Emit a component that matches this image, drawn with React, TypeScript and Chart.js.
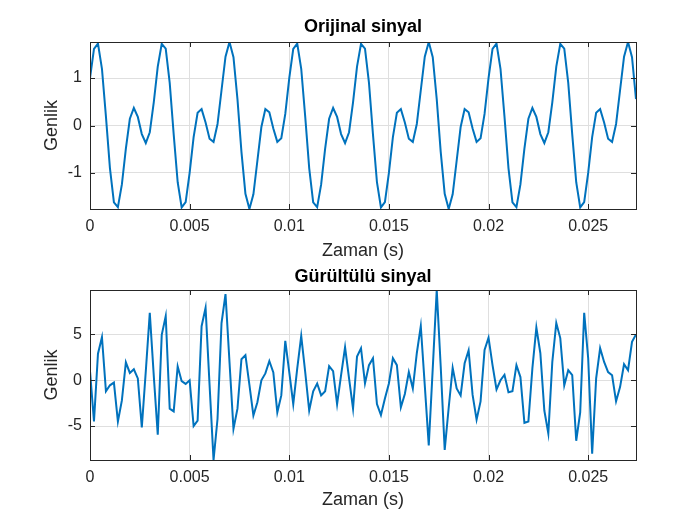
import React, { useEffect, useRef } from 'react';
import { Chart, registerables } from 'chart.js';

Chart.register(...registerables);

// ---- data ----
const sampleRate = 5000; // samples per second (time axis)

const originalSignal = [
  1.000, 1.614, 1.727, 1.196, 0.188, -0.897, -1.620, -1.721, -1.241, -0.487,
  0.142, 0.369, 0.181, -0.181, -0.369, -0.142, 0.487, 1.241, 1.721, 1.620,
  0.897, -0.188, -1.196, -1.727, -1.614, -1.000, -0.245, 0.269, 0.345, 0.063,
  -0.279, -0.345, 0.032, 0.743, 1.450, 1.760, 1.441, 0.556, -0.556, -1.441,
  -1.760, -1.450, -0.743, -0.032, 0.345, 0.279, -0.063, -0.345, -0.269, 0.245,
  1.000, 1.614, 1.727, 1.196, 0.188, -0.897, -1.620, -1.721, -1.241, -0.487,
  0.142, 0.369, 0.181, -0.181, -0.369, -0.142, 0.487, 1.241, 1.721, 1.620,
  0.897, -0.188, -1.196, -1.727, -1.614, -1.000, -0.245, 0.269, 0.345, 0.063,
  -0.279, -0.345, 0.032, 0.743, 1.450, 1.760, 1.441, 0.556, -0.556, -1.441,
  -1.760, -1.450, -0.743, -0.032, 0.345, 0.279, -0.063, -0.345, -0.269, 0.245,
  1.000, 1.614, 1.727, 1.196, 0.188, -0.897, -1.620, -1.721, -1.241, -0.487,
  0.142, 0.369, 0.181, -0.181, -0.369, -0.142, 0.487, 1.241, 1.721, 1.620,
  0.897, -0.188, -1.196, -1.727, -1.614, -1.000, -0.245, 0.269, 0.345, 0.063,
  -0.279, -0.345, 0.032, 0.743, 1.450, 1.760, 1.441, 0.556,
];

const noisySignal = [
  1.0, -4.5, 2.9, 4.7, -1.2, -0.55, -0.25, -4.5, -2.2, 1.95,
  0.8, 1.2, 0.2, -5.15, 1.0, 7.35, 0.5, -5.95, 4.95, 7.0,
  -3.1, -3.4, 1.5, -0.1, -0.4, 0.0, -5.0, -4.4, 5.9, 7.9,
  -0.5, -8.7, -4.2, 6.25, 9.4, 2.0, -5.3, -3.1, 2.3, 2.75,
  -0.5, -3.85, -2.4, 0.0, 0.75, 2.1, 0.85, -3.5, -1.65, 4.3,
  0.9, -2.6, 1.3, 4.85, 0.9, -3.3, -1.2, -0.35, -1.65, -1.2,
  1.55, 1.0, -2.6, 0.55, 3.6, 0.2, -3.1, 2.6, 3.5, -0.35,
  1.65, 2.4, -2.6, -3.8, -2.0, -0.35, 2.4, 1.65, -2.95, -1.5,
  0.9, -0.9, 2.95, 5.9, -0.55, -7.1, 1.3, 9.85, 1.5, -7.6,
  -3.0, 1.35, -0.9, -1.65, 1.85, 3.25, -1.6, -4.3, -2.3, 3.3,
  4.65, 1.65, -1.0, 0.0, 0.6, -1.3, -1.2, 1.65, 0.35, -4.65,
  -4.5, 1.3, 5.75, 2.95, -3.3, -5.8, 2.0, 6.25, 4.6, -0.55,
  1.1, 0.55, -6.6, -3.5, 7.35, 2.4, -8.0, 0.2, 3.5, 2.0,
  0.9, 0.55, -2.3, -0.75, 1.75, 1.1, 4.2, 5.0,
];

const xTickValues = [0, 0.005, 0.01, 0.015, 0.02, 0.025];
const xTickLabels = ['0', '0.005', '0.01', '0.015', '0.02', '0.025'];
const topYTickValues = [-1, 0, 1];
const topYTickLabels = ['-1', '0', '1'];
const bottomYTickValues = [-5, 0, 5];
const bottomYTickLabels = ['-5', '0', '5'];

const xMax = 0.0274;
const topYMin = -1.76;
const topYMax = 1.76;
const bottomYMin = -8.7;
const bottomYMax = 9.85;

const topTitle = 'Orijinal sinyal';
const bottomTitle = 'Gürültülü sinyal';
const xAxisTitle = 'Zaman (s)';
const yAxisTitle = 'Genlik';

// ---- styling ----
const FONT = "'Liberation Sans', Arial, Helvetica, sans-serif";
const LINE_COLOR = '#0072BD';
const AXIS_COLOR = '#262626';
const GRID_COLOR = '#dfdfdf';

const boxPlugin = {
  id: 'matlabBox',
  afterDatasetsDraw(chart: any) {
    const { ctx, chartArea: a, scales } = chart;
    ctx.save();
    ctx.strokeStyle = AXIS_COLOR;
    ctx.lineWidth = 1;
    ctx.beginPath();
    const tl = 5;
    scales.x.ticks.forEach((t: any) => {
      const px = Math.round(scales.x.getPixelForValue(t.value)) + 0.5;
      ctx.moveTo(px, a.bottom);
      ctx.lineTo(px, a.bottom - tl);
      ctx.moveTo(px, a.top);
      ctx.lineTo(px, a.top + tl);
    });
    scales.y.ticks.forEach((t: any) => {
      const py = Math.round(scales.y.getPixelForValue(t.value)) + 0.5;
      ctx.moveTo(a.left, py);
      ctx.lineTo(a.left + tl, py);
      ctx.moveTo(a.right, py);
      ctx.lineTo(a.right - tl, py);
    });
    ctx.stroke();
    ctx.strokeRect(
      Math.round(a.left) + 0.5,
      Math.round(a.top) + 0.5,
      Math.round(a.right) - Math.round(a.left),
      Math.round(a.bottom) - Math.round(a.top)
    );
    ctx.restore();
  },
};

function labelFor(values: number[], labels: string[], v: number) {
  const i = values.findIndex((x) => Math.abs(x - v) < 1e-9);
  return i >= 0 ? labels[i] : '';
}

function makeConfig(opts: {
  values: number[];
  title: string;
  titlePadTop: number;
  titlePadBottom: number;
  xScaleHeight: number;
  xTitlePadBottom: number;
  yMin: number;
  yMax: number;
  yTickValues: number[];
  yTickLabels: string[];
}): any {
  const points = opts.values.map((v, i) => ({ x: i / sampleRate, y: v }));
  return {
    type: 'line',
    data: {
      datasets: [
        {
          data: points,
          borderColor: LINE_COLOR,
          borderWidth: 2,
          pointRadius: 0,
          fill: false,
          tension: 0,
        },
      ],
    },
    options: {
      animation: false,
      responsive: false,
      devicePixelRatio: 1,
      events: [],
      layout: { padding: { left: 0, right: 64, top: 0, bottom: 0 } },
      plugins: {
        legend: { display: false },
        tooltip: { enabled: false },
        title: {
          display: true,
          text: opts.title,
          fullSize: false,
          color: '#000000',
          font: { family: FONT, size: 18, weight: 'bold' },
          padding: { top: opts.titlePadTop, bottom: opts.titlePadBottom },
        },
      },
      scales: {
        x: {
          type: 'linear',
          min: 0,
          max: xMax,
          afterBuildTicks: (s: any) => {
            s.ticks = xTickValues.map((v) => ({ value: v }));
          },
          afterFit: (s: any) => {
            s.height = opts.xScaleHeight;
          },
          ticks: {
            autoSkip: false,
            maxRotation: 0,
            color: AXIS_COLOR,
            padding: 8,
            font: { family: FONT, size: 16 },
            callback: (v: number) => labelFor(xTickValues, xTickLabels, v),
          },
          grid: { color: GRID_COLOR, drawTicks: false, lineWidth: 1 },
          border: { display: false },
          title: {
            display: true,
            text: xAxisTitle,
            color: AXIS_COLOR,
            font: { family: FONT, size: 18 },
            padding: { top: 0, bottom: opts.xTitlePadBottom },
          },
        },
        y: {
          type: 'linear',
          min: opts.yMin,
          max: opts.yMax,
          afterBuildTicks: (s: any) => {
            s.ticks = opts.yTickValues.map((v) => ({ value: v }));
          },
          afterFit: (s: any) => {
            s.width = 90;
          },
          ticks: {
            autoSkip: false,
            color: AXIS_COLOR,
            padding: 8,
            font: { family: FONT, size: 16 },
            callback: (v: number) => labelFor(opts.yTickValues, opts.yTickLabels, v),
          },
          grid: { color: GRID_COLOR, drawTicks: false, lineWidth: 1 },
          border: { display: false },
          title: {
            display: true,
            text: yAxisTitle,
            color: AXIS_COLOR,
            font: { family: FONT, size: 18 },
            padding: { top: 41, bottom: 0 },
          },
        },
      },
    },
    plugins: [boxPlugin],
  };
}

export default function App() {
  const topRef = useRef<HTMLCanvasElement>(null);
  const bottomRef = useRef<HTMLCanvasElement>(null);

  useEffect(() => {
    const top = new Chart(
      topRef.current as HTMLCanvasElement,
      makeConfig({
        values: originalSignal,
        title: topTitle,
        titlePadTop: 16,
        titlePadBottom: 4.4,
        xScaleHeight: 53,
        xTitlePadBottom: 0,
        yMin: topYMin,
        yMax: topYMax,
        yTickValues: topYTickValues,
        yTickLabels: topYTickLabels,
      })
    );
    const bottom = new Chart(
      bottomRef.current as HTMLCanvasElement,
      makeConfig({
        values: noisySignal,
        title: bottomTitle,
        titlePadTop: 4.2,
        titlePadBottom: 2.2,
        xScaleHeight: 65,
        xTitlePadBottom: 14,
        yMin: bottomYMin,
        yMax: bottomYMax,
        yTickValues: bottomYTickValues,
        yTickLabels: bottomYTickLabels,
      })
    );
    return () => {
      top.destroy();
      bottom.destroy();
    };
  }, []);

  return (
    <div
      style={{
        position: 'absolute',
        left: 0,
        top: 0,
        width: 700,
        height: 525,
        background: '#ffffff',
        overflow: 'hidden',
      }}
    >
      <canvas
        ref={topRef}
        width={700}
        height={262}
        style={{ position: 'absolute', left: 0, top: 0, width: 700, height: 262 }}
      />
      <canvas
        ref={bottomRef}
        width={700}
        height={263}
        style={{ position: 'absolute', left: 0, top: 262, width: 700, height: 263 }}
      />
    </div>
  );
}
